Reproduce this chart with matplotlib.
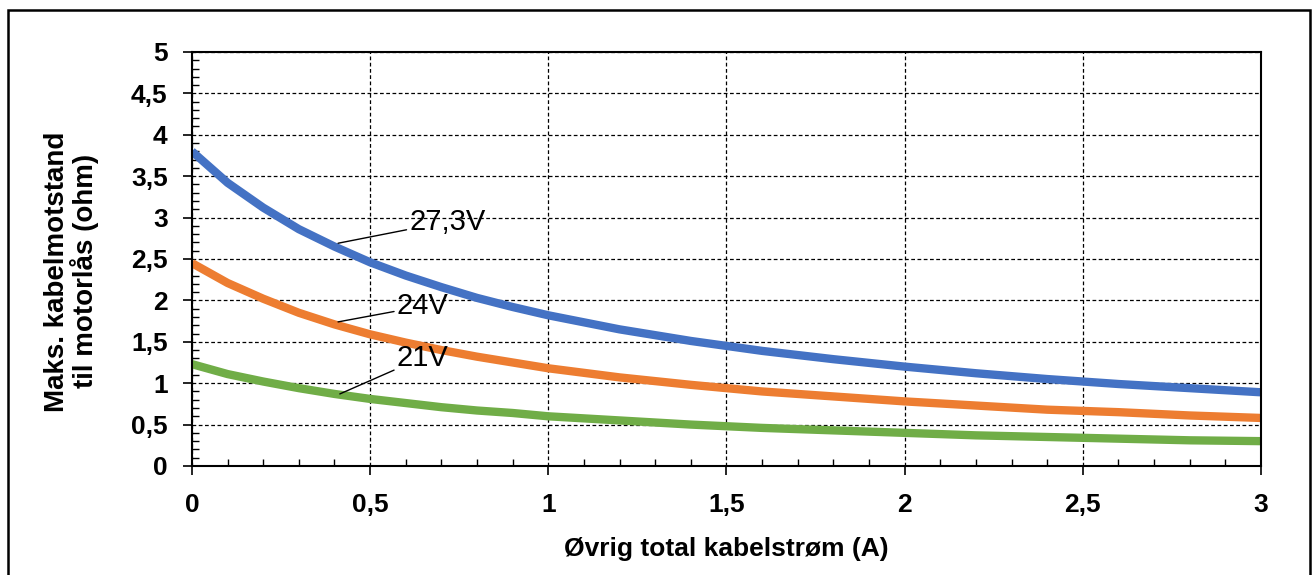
import numpy as np
import matplotlib
matplotlib.use('Agg')
import matplotlib.pyplot as plt
from matplotlib.ticker import MultipleLocator, FuncFormatter
from matplotlib.patches import Rectangle

#data
strom = [0, 0.1, 0.2, 0.3, 0.4, 0.5, 0.6, 0.7, 0.8, 0.9, 1.0,
         1.2, 1.4, 1.6, 1.8, 2.0, 2.2, 2.4, 2.6, 2.8, 3.0]
r_273 = [3.80, 3.42, 3.12, 2.86, 2.65, 2.46, 2.30, 2.16, 2.03, 1.92, 1.82,
         1.65, 1.51, 1.39, 1.29, 1.20, 1.12, 1.05, 0.99, 0.94, 0.89]
r_24 = [2.45, 2.21, 2.02, 1.85, 1.71, 1.59, 1.49, 1.40, 1.32, 1.25, 1.18,
        1.07, 0.98, 0.90, 0.84, 0.78, 0.73, 0.68, 0.65, 0.61, 0.58]
r_21 = [1.23, 1.11, 1.02, 0.94, 0.87, 0.81, 0.76, 0.71, 0.67, 0.64, 0.60,
        0.55, 0.50, 0.46, 0.43, 0.40, 0.37, 0.35, 0.33, 0.31, 0.30]

labels = ['27,3V', '24V', '21V']
# (point on curve, text position)
label_pos = [((0.41, 2.69), (0.61, 2.95)),
             ((0.41, 1.74), (0.575, 1.93)),
             ((0.415, 0.87), (0.575, 1.31))]

plt.rcParams['font.family'] = ['Liberation Sans', 'DejaVu Sans']

fig = plt.figure(figsize=(13.12, 5.75), dpi=100)
ax = fig.add_axes([0.1463, 0.1896, 0.8148, 0.72])

ax.plot(strom, r_273, color='#4472C4', lw=6, solid_capstyle='butt')
ax.plot(strom, r_24, color='#ED7D31', lw=6, solid_capstyle='butt')
ax.plot(strom, r_21, color='#70AD47', lw=6, solid_capstyle='butt')

for lab, (p, t) in zip(labels, label_pos):
    ax.annotate(lab, xy=p, xytext=t, fontsize=21, va='center', ha='left',
                arrowprops=dict(arrowstyle='-', color='black', lw=1,
                                shrinkA=0, shrinkB=0))

ax.set_xlim(0, 3)
ax.set_ylim(0, 5)
ax.xaxis.set_major_locator(MultipleLocator(0.5))
ax.yaxis.set_major_locator(MultipleLocator(0.5))
ax.xaxis.set_minor_locator(MultipleLocator(0.1))
ax.yaxis.set_minor_locator(MultipleLocator(0.1))
comma = FuncFormatter(lambda v, pos: ('%g' % v).replace('.', ','))
ax.xaxis.set_major_formatter(comma)
ax.yaxis.set_major_formatter(comma)

ax.tick_params(which='major', direction='out', length=6.5, width=1.2,
               labelsize=19)
ax.tick_params(which='minor', direction='in', length=5, width=1)
ax.tick_params(axis='y', which='major', pad=11)
ax.tick_params(axis='x', which='major', pad=13)
for t in ax.get_xticklabels() + ax.get_yticklabels():
    t.set_fontweight('bold')

ax.grid(which='major', color='black', linestyle=(0, (3, 2)), lw=0.9)
for s in ax.spines.values():
    s.set_linewidth(1.5)

ax.set_xlabel('Øvrig total kabelstrøm (A)', fontsize=19, fontweight='bold')
ax.xaxis.set_label_coords(0.5, -0.172)
ax.set_ylabel('Maks. kabelmotstand\ntil motorlås (ohm)', fontsize=20,
              fontweight='bold', linespacing=1.0)
ax.yaxis.set_label_coords(-0.087, 0.47)

#frame around the whole chart
fig.patches.append(Rectangle((8 / 1312, -0.05), 1302 / 1312, 1.05 - 10 / 575,
                             transform=fig.transFigure, fill=False,
                             edgecolor='black', lw=1.8, clip_on=False))

plt.savefig('out.png', dpi=100)
